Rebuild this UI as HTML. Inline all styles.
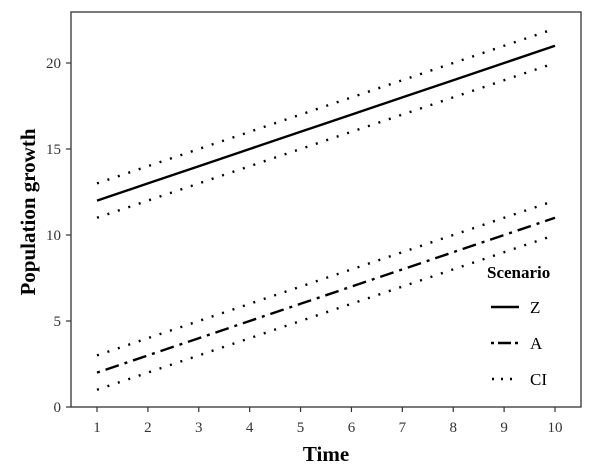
<!DOCTYPE html>
<html><head><meta charset="utf-8"><style>
body{margin:0;background:#fff;}
svg{display:block;font-family:"Liberation Serif",serif;}
</style></head><body>
<svg id="chart" width="590" height="472">
<rect x="71" y="12" width="510" height="395" fill="none" stroke="#333" stroke-width="1.3"/>
<g id="axes"></g>
<g id="series"></g>
<text x="0" y="0" transform="translate(35,212) rotate(-90)" font-size="21" font-weight="bold" text-anchor="middle">Population growth</text>
<text x="326" y="461" font-size="21" font-weight="bold" text-anchor="middle">Time</text>
<g>
<text x="487" y="278" font-size="17" font-weight="bold">Scenario</text>
<g><line x1="491" y1="307" x2="519" y2="307" stroke="#000" stroke-width="2.4"/><text x="530" y="313" font-size="17">Z</text></g>
<g><line x1="491" y1="343" x2="519" y2="343" stroke="#000" stroke-width="2.4" stroke-dasharray="3 4 13 4"/><text x="530" y="349" font-size="17">A</text></g>
<g><line x1="492" y1="379" x2="519" y2="379" stroke="#000" stroke-width="2.4" stroke-dasharray="2 7"/><text x="530" y="385" font-size="17">CI</text></g>
</g>
</svg>
<script>
const times=[1,2,3,4,5,6,7,8,9,10];
const zValues=[12,13,14,15,16,17,18,19,20,21];
const zUpper=[13,14,15,16,17,18,19,20,21,22];
const zLower=[11,12,13,14,15,16,17,18,19,20];
const aValues=[2,3,4,5,6,7,8,9,10,11];
const aUpper=[3,4,5,6,7,8,9,10,11,12];
const aLower=[1,2,3,4,5,6,7,8,9,10];
const xTicks=[1,2,3,4,5,6,7,8,9,10];
const yTicks=[0,5,10,15,20];
const NS="http://www.w3.org/2000/svg";
const xs=v=>97+(v-1)*(555-97)/9;
const ys=v=>407-v*(407-63)/20;
const axes=document.getElementById('axes');
const ser=document.getElementById('series');
function mk(tag,attrs,parent){const e=document.createElementNS(NS,tag);for(const k in attrs)e.setAttribute(k,attrs[k]);parent.appendChild(e);return e;}
xTicks.forEach(t=>{
 const l=mk('line',{x1:xs(t),x2:xs(t),y1:407,y2:412,stroke:'#333','stroke-width':1.2},axes);
 
 
 const tx=mk('text',{x:xs(t),y:432,'font-size':15,'text-anchor':'middle',fill:'#333'},axes);
 tx.textContent=t;
 
 
});
yTicks.forEach(t=>{
 const l=mk('line',{x1:66,x2:71,y1:ys(t),y2:ys(t),stroke:'#333','stroke-width':1.2},axes);
 
 
 const tx=mk('text',{x:61,y:ys(t)+5,'font-size':15,'text-anchor':'end',fill:'#333'},axes);
 tx.textContent=t;
 
 
});
function line(vals,dash,name){
 const d=vals.map((v,i)=>(i?'L':'M')+xs(times[i])+','+ys(v)).join(' ');
 const p=mk('path',{d:d,fill:'none',stroke:'#000','stroke-width':2.4},ser);
 if(dash)p.setAttribute('stroke-dasharray',dash);
 
 
}
line(zUpper,'2 9','z-ci-upper');
line(zLower,'2 9','z-ci-lower');
line(zValues,null,'z-line');
line(aUpper,'2 9','a-ci-upper');
line(aLower,'2 9','a-ci-lower');
line(aValues,'3 6 14 6','a-line');
</script>
</body></html>
